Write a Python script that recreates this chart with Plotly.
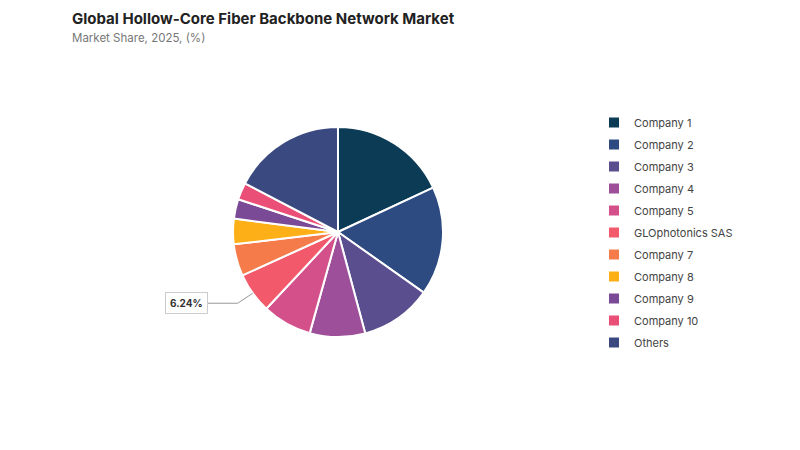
import numpy as np
import plotly.graph_objects as go

# Market share data
labels = ['Company 1', 'Company 2', 'Company 3', 'Company 4', 'Company 5',
          'GLOphotonics SAS', 'Company 7', 'Company 8', 'Company 9',
          'Company 10', 'Others']
shares = [18.0, 16.7, 11.0, 8.5, 7.6, 6.24, 4.9, 3.9, 3.0, 2.6, 17.3]
colors = ['#0b3b55', '#2d4b80', '#5a4e8f', '#9d4f9a', '#d4508a', '#f25a6b',
          '#f57c4a', '#fcaf17', '#7a4a96', '#ea5077', '#3a4a80']
highlight = 'GLOphotonics SAS'

W, H = 800, 450
cx, cy, r = 330, 224, 105  # pie centre / radius in pixels

dom_x = [(cx - r) / W, (cx + r) / W]
dom_y = [1 - (cy + r) / H, 1 - (cy - r) / H]

fig = go.Figure(go.Pie(
    labels=labels,
    values=shares,
    sort=False,
    direction='clockwise',
    rotation=0,
    marker=dict(colors=colors, line=dict(color='white', width=2)),
    textinfo='none',
    hoverinfo='label+percent',
    domain=dict(x=dom_x, y=dom_y),
    showlegend=False,
))

# legend entries as empty marker traces, so the rows can be spaced out
for lab, col in zip(labels, colors):
    fig.add_trace(go.Scatter(
        x=[None], y=[None], mode='markers', name=lab, legendgroup=lab,
        marker=dict(symbol='square', size=10, color=col),
        hoverinfo='skip',
    ))

# label for the highlighted slice, placed at its mid angle
idx = labels.index(highlight)
total = sum(shares)
start = sum(shares[:idx]) / total * 360
mid = np.radians(start + shares[idx] / total * 360 / 2)
ex = cx + r * np.sin(mid)
ey = cy - r * np.cos(mid)
kx, ky = ex - 15, ey + 10
bx = kx - 30

def px(x):
    return x / W

def py(y):
    return 1 - y / H

fig.add_shape(
    type='path', xref='paper', yref='paper',
    path=f'M {px(ex)} {py(ey)} L {px(kx)} {py(ky)} L {px(bx)} {py(ky)}',
    line=dict(color='#999999', width=1),
)
fig.add_annotation(
    x=px(bx), y=py(ky), xref='paper', yref='paper',
    xanchor='right', yanchor='middle',
    text=f'<b>{shares[idx]:.2f}%</b>', showarrow=False,
    font=dict(size=10, color='#333333'),
    bgcolor='white', bordercolor='#cccccc', borderwidth=1, borderpad=4,
)

# title and subtitle
fig.add_annotation(
    x=62 / W, y=1 - 10 / H, xref='paper', yref='paper',
    xanchor='left', yanchor='middle', showarrow=False,
    text='<b>Global Hollow-Core Fiber Backbone Network Market</b>',
    font=dict(size=15, color='#222222'),
)
fig.add_annotation(
    x=62 / W, y=1 - 30 / H, xref='paper', yref='paper',
    xanchor='left', yanchor='middle', showarrow=False,
    text='Market Share, 2025, (%)',
    font=dict(size=11.5, color='#777777'),
)

fig.update_layout(
    width=W, height=H,
    margin=dict(l=0, r=0, t=0, b=0),
    paper_bgcolor='white',
    plot_bgcolor='white',
    font=dict(family='Inter, sans-serif', color='#444444'),
    showlegend=True,
    xaxis=dict(visible=False),
    yaxis=dict(visible=False),
    legend=dict(
        x=586 / W, y=1 - 100 / H, xanchor='left', yanchor='top',
        font=dict(size=11, color='#444444'),
        tracegroupgap=3,
        itemclick=False, itemdoubleclick=False,
    ),
)

fig.write_html('out.html')
